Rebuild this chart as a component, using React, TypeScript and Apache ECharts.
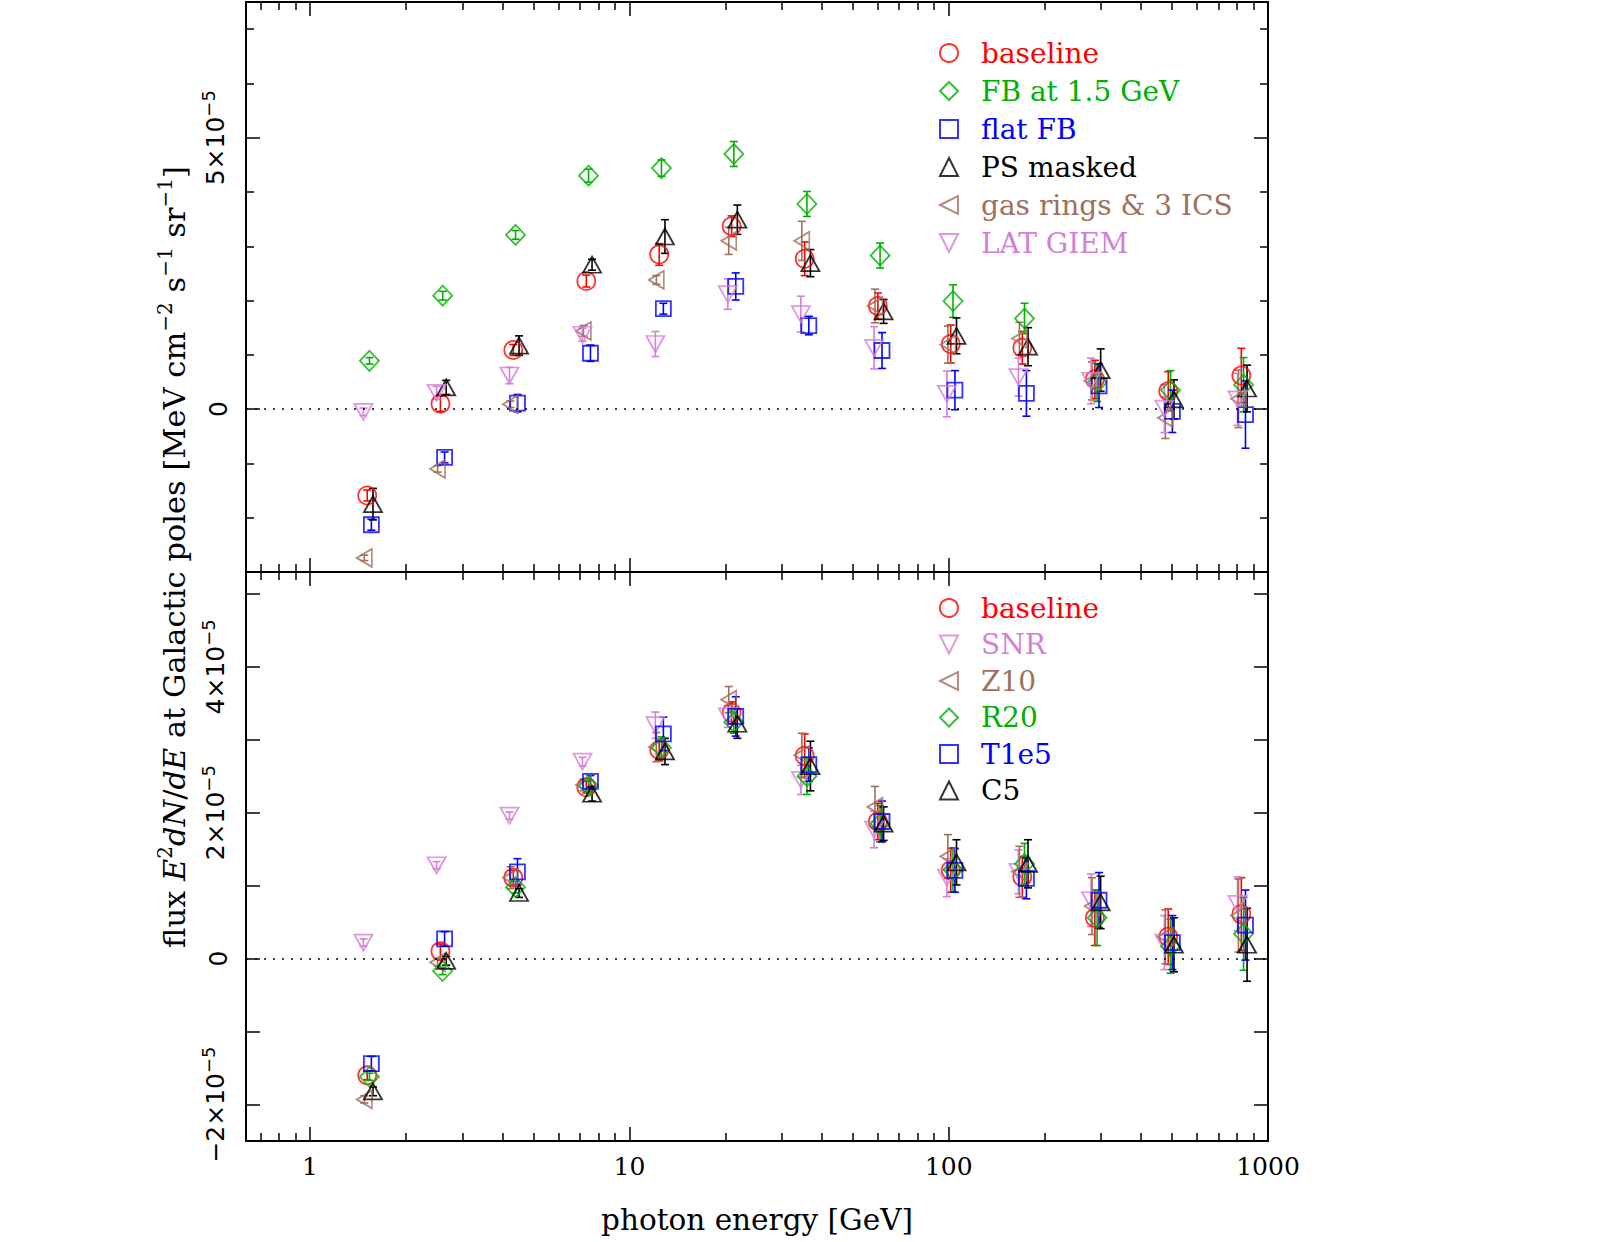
import React, { useEffect, useRef } from 'react';
import * as echarts from 'echarts';

// Photon energy bin centres [GeV]
const ENERGY = [1.51, 2.56, 4.33, 7.33, 12.4, 20.9, 35.4, 60.0, 101.5, 170, 287, 487, 825];

// Flux values in units of 1e-5 MeV cm^-2 s^-1 sr^-1 (top panel)
const topBaseline = [-1.59, 0.10, 1.09, 2.36, 2.85, 3.37, 2.77, 1.90, 1.20, 1.13, 0.55, 0.33, 0.62];
const topBaselineErr = [0.10, 0.14, 0.10, 0.11, 0.20, 0.19, 0.31, 0.24, 0.35, 0.30, 0.35, 0.36, 0.50];
const topFB15 = [0.89, 2.09, 3.21, 4.30, 4.44, 4.70, 3.78, 2.83, 1.99, 1.67, 0.49, 0.35, 0.45];
const topFB15Err = [0.06, 0.08, 0.08, 0.12, 0.15, 0.23, 0.23, 0.23, 0.30, 0.28, 0.35, 0.36, 0.50];
const topFlatFB = [-2.13, -0.89, 0.11, 1.03, 1.85, 2.26, 1.54, 1.08, 0.35, 0.29, 0.43, -0.04, -0.10];
const topFlatFBErr = [0.10, 0.10, 0.16, 0.15, 0.10, 0.25, 0.17, 0.33, 0.36, 0.42, 0.40, 0.39, 0.62];
const topPSMasked = [-1.75, 0.40, 1.17, 2.66, 3.18, 3.49, 2.69, 1.80, 1.35, 1.15, 0.72, 0.18, 0.38];
const topPSMaskedErr = [0.29, 0.13, 0.18, 0.10, 0.31, 0.27, 0.25, 0.22, 0.33, 0.35, 0.39, 0.36, 0.43];
const topGasRings = [-2.74, -1.10, 0.09, 1.44, 2.38, 3.10, 3.10, 1.90, 1.19, 1.30, 0.52, -0.16, 0.19];
const topGasRingsErr = [0.05, 0.06, 0.06, 0.10, 0.08, 0.25, 0.36, 0.31, 0.34, 0.30, 0.35, 0.38, 0.53];
const topLatGiem = [-0.05, 0.30, 0.62, 1.37, 1.20, 2.12, 1.75, 1.13, 0.28, 0.59, 0.52, 0.01, 0.18];
const topLatGiemErr = [0.07, 0.12, 0.15, 0.12, 0.23, 0.28, 0.33, 0.39, 0.42, 0.35, 0.42, 0.44, 0.48];

// Bottom panel
const botBaseline = [-1.60, 0.10, 1.11, 2.35, 2.86, 3.37, 2.78, 1.88, 1.21, 1.12, 0.56, 0.30, 0.61];
const botBaselineErr = [0.06, 0.10, 0.10, 0.08, 0.15, 0.15, 0.30, 0.25, 0.30, 0.28, 0.38, 0.38, 0.50];
const botSNR = [0.22, 1.28, 1.96, 2.70, 3.20, 3.32, 2.45, 1.77, 1.11, 1.19, 0.80, 0.22, 0.75];
const botSNRErr = [0.05, 0.05, 0.05, 0.06, 0.18, 0.15, 0.20, 0.25, 0.26, 0.30, 0.36, 0.37, 0.37];
const botZ10 = [-1.93, -0.05, 1.11, 2.38, 2.90, 3.55, 2.79, 2.08, 1.40, 1.19, 0.72, 0.30, 0.59];
const botZ10Err = [0.05, 0.05, 0.15, 0.08, 0.20, 0.18, 0.30, 0.28, 0.30, 0.35, 0.39, 0.37, 0.50];
const botR20 = [-1.62, -0.17, 0.98, 2.37, 2.89, 3.24, 2.50, 1.85, 1.22, 1.30, 0.56, 0.17, 0.34];
const botR20Err = [0.05, 0.05, 0.08, 0.08, 0.15, 0.15, 0.25, 0.25, 0.30, 0.28, 0.38, 0.37, 0.50];
const botT1e5 = [-1.44, 0.27, 1.19, 2.43, 3.08, 3.32, 2.66, 1.88, 1.21, 1.10, 0.80, 0.22, 0.46];
const botT1e5Err = [0.10, 0.10, 0.18, 0.08, 0.23, 0.27, 0.23, 0.28, 0.30, 0.28, 0.38, 0.37, 0.48];
const botC5 = [-1.82, -0.03, 0.90, 2.26, 2.84, 3.22, 2.64, 1.85, 1.32, 1.30, 0.77, 0.19, 0.19];
const botC5Err = [0.06, 0.06, 0.06, 0.10, 0.18, 0.20, 0.34, 0.23, 0.31, 0.33, 0.36, 0.37, 0.50];

// Axes
const X_MIN = 0.63;
const X_MAX = 1000;
const X_LABELS = [1, 10, 100, 1000];
const X_MINOR = [0.7, 0.8, 0.9, 2, 3, 4, 5, 6, 7, 8, 9, 20, 30, 40, 50, 60, 70, 80, 90, 200, 300, 400, 500, 600, 700, 800, 900];
const TOP_Y_MIN = -3;
const TOP_Y_MAX = 7.5;
const TOP_Y_MAJOR = [0, 5];
const TOP_Y_MINOR = [-2, -1, 1, 2, 3, 4, 6, 7];
const BOT_Y_MIN = -2.5;
const BOT_Y_MAX = 5.3;
const BOT_Y_TICKS = [-2, -1, 0, 1, 2, 3, 4, 5];
const BOT_Y_LABELS = [-2, 0, 2, 4];

const RED = '#ff0000';
const GREEN = '#00b000';
const BLUE = '#0000ff';
const BLACK = '#000000';
const BROWN = '#a0705a';
const VIOLET = '#d47fd8';

const MARKERS: Record<string, { symbol: string; size: number | number[]; shift: number }> = {
  circle: { symbol: 'circle', size: 18, shift: 0 },
  diamond: { symbol: 'diamond', size: [19, 20], shift: 0.007 },
  square: { symbol: 'rect', size: 15, shift: 0.013 },
  triUp: { symbol: 'triangle', size: [18, 16], shift: 0.018 },
  triLeft: { symbol: 'path://M0,5L10,0L10,10Z', size: [15, 18], shift: -0.009 },
  triDown: { symbol: 'path://M0,0L10,0L5,10Z', size: [18, 16], shift: -0.012 },
};

type Spec = { name: string; values: number[]; errors: number[]; color: string; marker: string };

const TOP_SPECS: Spec[] = [
  { name: 'baseline', values: topBaseline, errors: topBaselineErr, color: RED, marker: 'circle' },
  { name: 'FB at 1.5 GeV', values: topFB15, errors: topFB15Err, color: GREEN, marker: 'diamond' },
  { name: 'flat FB', values: topFlatFB, errors: topFlatFBErr, color: BLUE, marker: 'square' },
  { name: 'PS masked', values: topPSMasked, errors: topPSMaskedErr, color: BLACK, marker: 'triUp' },
  { name: 'gas rings & 3 ICS', values: topGasRings, errors: topGasRingsErr, color: BROWN, marker: 'triLeft' },
  { name: 'LAT GIEM', values: topLatGiem, errors: topLatGiemErr, color: VIOLET, marker: 'triDown' },
];

const BOT_SPECS: Spec[] = [
  { name: 'baseline', values: botBaseline, errors: botBaselineErr, color: RED, marker: 'circle' },
  { name: 'SNR', values: botSNR, errors: botSNRErr, color: VIOLET, marker: 'triDown' },
  { name: 'Z10', values: botZ10, errors: botZ10Err, color: BROWN, marker: 'triLeft' },
  { name: 'R20', values: botR20, errors: botR20Err, color: GREEN, marker: 'diamond' },
  { name: 'T1e5', values: botT1e5, errors: botT1e5Err, color: BLUE, marker: 'square' },
  { name: 'C5', values: botC5, errors: botC5Err, color: BLACK, marker: 'triUp' },
];

const AXIS_LINE = { show: true, onZero: false, lineStyle: { color: '#000', width: 2 } };
const TICK_LINE = { color: '#000', width: 1.5 };

function makeXAxis(gridIndex: number, position: string, ticks: number[], len: number, labels: boolean, name?: string) {
  return {
    type: 'log',
    logBase: 10,
    gridIndex,
    position,
    min: X_MIN,
    max: X_MAX,
    axisLine: AXIS_LINE,
    axisTick: { show: true, inside: true, length: len, customValues: ticks, lineStyle: TICK_LINE },
    axisLabel: labels
      ? {
          show: true,
          customValues: X_LABELS,
          formatter: (v: number) => String(Math.round(v)),
          margin: 13,
          color: '#000',
          fontFamily: 'DejaVu Serif',
          fontSize: 25,
        }
      : { show: false },
    splitLine: { show: false },
    minorTick: { show: false },
    name: name || '',
    nameLocation: 'middle',
    nameGap: 64,
    nameTextStyle: { color: '#000', fontFamily: 'DejaVu Serif', fontSize: 29.5 },
  };
}

const fmtY = (v: number) => {
  if (Math.abs(v) < 1e-9) return '0';
  const m = Math.round(v);
  return `${m < 0 ? '−' : ''}${Math.abs(m)}×10{s|−5}`;
};

function makeYAxis(gridIndex: number, position: string, min: number, max: number, ticks: number[], len: number, labels: number[] | null) {
  return {
    type: 'value',
    gridIndex,
    position,
    min,
    max,
    axisLine: AXIS_LINE,
    axisTick: { show: true, inside: true, length: len, customValues: ticks, lineStyle: TICK_LINE },
    axisLabel: labels
      ? {
          show: true,
          customValues: labels,
          formatter: fmtY,
          rotate: 90,
          margin: 15,
          color: '#000',
          fontFamily: 'DejaVu Sans',
          fontSize: 25,
          rich: { s: { fontFamily: 'DejaVu Sans', fontSize: 18, color: '#000', padding: [0, 0, 14, 0] } },
        }
      : { show: false },
    splitLine: { show: false },
  };
}

function errorRenderer(color: string) {
  return (params: any, api: any) => {
    const x = api.value(0);
    const lo = api.coord([x, api.value(1)]);
    const hi = api.coord([x, api.value(2)]);
    const cw = 4;
    const style = { stroke: color, lineWidth: 1.6, fill: 'none' };
    return {
      type: 'group',
      children: [
        { type: 'line', shape: { x1: lo[0], y1: lo[1], x2: hi[0], y2: hi[1] }, style },
        { type: 'line', shape: { x1: lo[0] - cw, y1: lo[1], x2: lo[0] + cw, y2: lo[1] }, style },
        { type: 'line', shape: { x1: hi[0] - cw, y1: hi[1], x2: hi[0] + cw, y2: hi[1] }, style },
      ],
    };
  };
}

function buildPanelSeries(specs: Spec[], axisIdx: number, panel: string) {
  const out: any[] = [];
  specs.forEach((s, i) => {
    const mk = MARKERS[s.marker];
    const factor = Math.pow(10, mk.shift);
    out.push({
      type: 'custom',
      name: `${panel} ${s.name} error`,
      xAxisIndex: axisIdx,
      yAxisIndex: axisIdx,
      silent: true,
      z: 2,
      encode: { x: 0, y: [1, 2] },
      data: ENERGY.map((e, k) => [e * factor, s.values[k] - s.errors[k], s.values[k] + s.errors[k]]),
      renderItem: errorRenderer(s.color),
    });
    const series: any = {
      type: 'scatter',
      name: s.name,
      xAxisIndex: axisIdx,
      yAxisIndex: axisIdx,
      symbol: mk.symbol,
      symbolSize: mk.size,
      z: 3,
      itemStyle: { color: 'rgba(0,0,0,0)', borderColor: s.color, borderWidth: 1.8 },
      emphasis: { disabled: true },
      data: ENERGY.map((e, k) => [e * factor, s.values[k]]),
    };
    if (i === 0) {
      series.markLine = {
        silent: true,
        symbol: ['none', 'none'],
        label: { show: false },
        lineStyle: { color: '#000', type: [2, 7], width: 1.5 },
        data: [{ yAxis: 0 }],
      };
    }
    out.push(series);
  });
  return out;
}

function buildOption() {
  const legendBase = {
    orient: 'vertical',
    left: 934,
    itemWidth: 18,
    itemHeight: 18,
    selectedMode: false,
    textStyle: { fontFamily: 'DejaVu Serif', fontSize: 28, padding: [0, 0, 0, 18] },
  };
  return {
    animation: false,
    backgroundColor: '#fff',
    grid: [
      { left: 246, top: 2, width: 1022, height: 570 },
      { left: 246, top: 572, width: 1022, height: 569 },
    ],
    xAxis: [
      makeXAxis(0, 'bottom', X_LABELS, 14, false),
      makeXAxis(0, 'bottom', X_MINOR, 8, false),
      makeXAxis(0, 'top', X_LABELS, 14, false),
      makeXAxis(0, 'top', X_MINOR, 8, false),
      makeXAxis(1, 'bottom', X_LABELS, 14, true, 'photon energy [GeV]'),
      makeXAxis(1, 'bottom', X_MINOR, 8, false),
      makeXAxis(1, 'top', X_LABELS, 14, false),
      makeXAxis(1, 'top', X_MINOR, 8, false),
    ],
    yAxis: [
      makeYAxis(0, 'left', TOP_Y_MIN, TOP_Y_MAX, TOP_Y_MAJOR, 14, TOP_Y_MAJOR),
      makeYAxis(0, 'left', TOP_Y_MIN, TOP_Y_MAX, TOP_Y_MINOR, 8, null),
      makeYAxis(0, 'right', TOP_Y_MIN, TOP_Y_MAX, TOP_Y_MAJOR, 14, null),
      makeYAxis(0, 'right', TOP_Y_MIN, TOP_Y_MAX, TOP_Y_MINOR, 8, null),
      makeYAxis(1, 'left', BOT_Y_MIN, BOT_Y_MAX, BOT_Y_TICKS, 14, BOT_Y_LABELS),
      makeYAxis(1, 'right', BOT_Y_MIN, BOT_Y_MAX, BOT_Y_TICKS, 14, null),
    ],
    legend: [
      {
        ...legendBase,
        top: 34,
        itemGap: 10,
        data: TOP_SPECS.map((s) => ({ name: s.name, textStyle: { color: s.color } })),
      },
      {
        ...legendBase,
        top: 589,
        itemGap: 8.5,
        data: BOT_SPECS.map((s) => ({ name: s.name, textStyle: { color: s.color } })),
      },
    ],
    graphic: [
      {
        type: 'text',
        x: 174,
        y: 557,
        rotation: Math.PI / 2,
        style: {
          text: '{r|flux }{i|E}{s|2}{i|dN}{r|/}{i|dE}{r| at Galactic poles [MeV cm}{s|−2}{r| s}{s|−1}{r| sr}{s|−1}{r|]}',
          align: 'center',
          verticalAlign: 'middle',
          fill: '#000',
          rich: {
            r: { fontFamily: 'DejaVu Serif', fontSize: 30.5, fill: '#000' },
            i: { fontFamily: 'DejaVu Serif', fontSize: 30.5, fontStyle: 'italic', fill: '#000' },
            s: { fontFamily: 'DejaVu Serif', fontSize: 20, fill: '#000', padding: [0, 0, 19, 0] },
          },
        },
      },
    ],
    series: [...buildPanelSeries(TOP_SPECS, 0, 'top'), ...buildPanelSeries(BOT_SPECS, 4, 'bottom')],
  };
}

export default function App() {
  const ref = useRef<HTMLDivElement>(null);
  useEffect(() => {
    if (!ref.current) return;
    const chart = echarts.init(ref.current, null, { renderer: 'svg' });
    chart.setOption(buildOption() as any);
    return () => chart.dispose();
  }, []);
  return (
    <div
      ref={ref}
      style={{ position: 'fixed', left: 0, top: 0, width: 1601, height: 1242, background: '#fff' }}
    />
  );
}
